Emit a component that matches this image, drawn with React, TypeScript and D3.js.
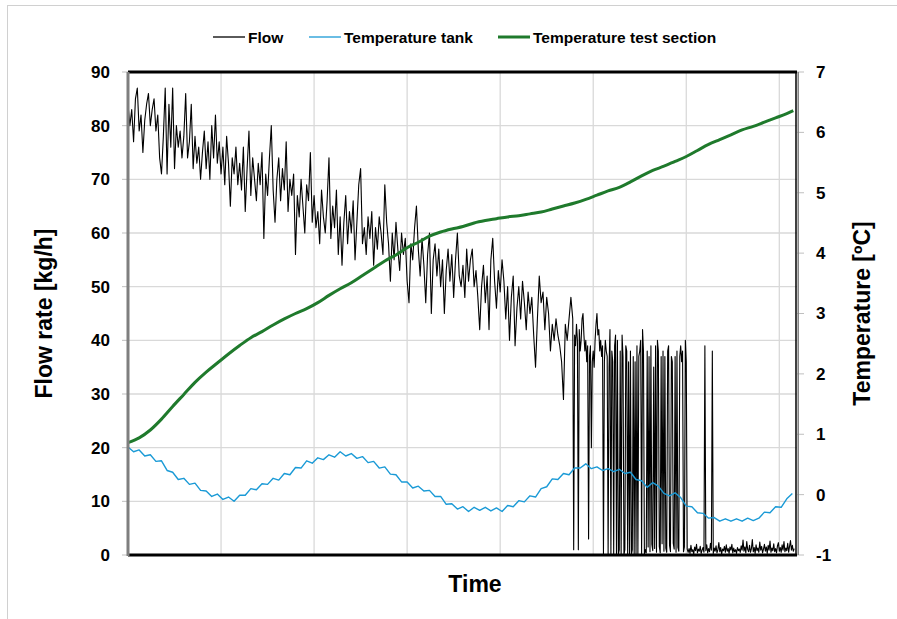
import React from "react";
import * as d3 from "d3";

// ---------- DATA ----------
// Flow rate [kg/h], part A: t = 0..476, step 2
const flowA: number[] = [
  84, 80, 83, 77, 85, 87, 79, 82, 75, 81,
  84, 86, 80, 83, 85, 79, 82, 74, 71, 78,
  87, 71, 84, 76, 87, 72, 80, 76, 79, 74,
  78, 86, 74, 77, 84, 72, 78, 73, 76, 70,
  75, 79, 72, 77, 70, 80, 74, 82, 73, 77,
  71, 76, 69, 78, 73, 65, 74, 71, 76, 69,
  73, 68, 76, 64, 72, 79, 67, 74, 70, 66,
  73, 69, 75, 59, 71, 67, 74, 80, 68, 62,
  70, 74, 66, 72, 68, 77, 64, 70, 67, 71,
  56, 67, 63, 70, 65, 60, 69, 66, 75, 62,
  67, 61, 64, 58, 68, 63, 60, 66, 74, 59,
  65, 61, 68, 56, 63, 54, 62, 67, 58, 64,
  60, 66, 55, 62, 69, 72, 58, 61, 56, 63,
  59, 64, 54, 61, 57, 63, 60, 56, 69, 62,
  58, 51, 60, 55, 62, 57, 53, 60, 56, 59,
  51, 47, 58, 55, 61, 65, 57, 52, 59, 54,
  47, 56, 60, 45, 55, 58, 52, 57, 50, 55,
  45, 53, 57, 51, 56, 48, 55, 60, 52, 50,
  54, 48, 57, 51, 55, 57, 50, 53, 48, 42,
  50, 54, 47, 52, 42, 55, 59, 51, 46, 53,
  49, 55, 51, 44, 50, 40, 48, 52, 39, 46,
  50, 44, 51, 47, 42, 49, 45, 48, 41, 35,
  44, 52, 47, 49, 42, 48, 45, 38, 43, 40,
  44, 41, 39, 36, 29, 43, 40, 44, 48,
];
const flowAStart = 0;
const flowAStep = 2;

// Flow part B: t = 477..601, step 1 (intermittent dropouts)
const flowB: number[] = [
  46, 44, 1, 41, 39, 43, 40, 1, 42, 38,
  40, 44, 45, 41, 38, 40, 36, 39, 3, 37,
  39, 20, 36, 38, 35, 40, 43, 45, 41, 42,
  38, 40, 37, 39, 0, 36, 40, 38, 37, 0,
  35, 42, 0, 38, 36, 0, 39, 41, 0, 40,
  0, 1, 38, 0, 41, 37, 0, 1, 39, 38,
  0, 36, 0, 38, 0, 1, 37, 0, 36, 0,
  39, 0, 37, 38, 40, 0, 42, 38, 0, 1,
  0.4, 38, 1.5, 37, 0.6, 39, 2, 0.8, 35, 1.2,
  39, 0.5, 40, 38, 1.6, 0.4, 37, 2.1, 38, 0.7,
  37, 1.3, 0.5, 38, 39, 1.8, 0.6, 37, 36, 2.2,
  1.1, 37, 0.5, 38, 1.4, 0.7, 37, 39, 36, 38,
  0.6, 1.5, 40, 36, 1.1,
];
const flowBStart = 477;
const flowBStep = 1;

// Flow part C: t = 602..716, step 1 (near zero with two isolated spikes)
const flowC: number[] = [
  0.5, 1.2, 0.3, 1.8, 0.6, 1.0, 0.2, 1.5, 0.8, 2.0,
  0.4, 1.1, 0.7, 1.6, 0.3, 0.9, 1.4, 0.5, 39, 0.8,
  1.9, 0.4, 1.2, 0.6, 2.2, 0.9, 38, 0.3, 1.3, 0.7,
  1.7, 0.4, 1.0, 2.3, 0.6, 1.4, 0.2, 1.1, 0.8, 1.6,
  0.5, 1.9, 0.7, 1.2, 0.3, 1.5, 0.9, 2.0, 0.4, 1.3,
  0.6, 1.0, 0.3, 1.4, 0.8, 1.1, 0.5, 1.7, 0.9, 2.8,
  0.7, 1.5, 0.4, 2.5, 1.0, 0.6, 1.8, 0.5, 1.2, 2.9,
  0.6, 1.4, 0.3, 1.9, 0.8, 1.3, 0.5, 2.4, 0.9, 1.6,
  0.4, 1.1, 2.0, 0.7, 1.5, 0.3, 1.8, 0.9, 2.6, 0.5,
  1.3, 0.8, 2.1, 0.6, 1.2, 0.4, 1.7, 2.3, 0.7, 1.4,
  0.5, 1.9, 0.9, 2.5, 0.6, 1.3, 0.8, 2.2, 0.5, 1.6,
  2.7, 0.9, 1.8, 0.7, 1.2,
];
const flowCStart = 602;
const flowCStep = 1;

// Temperature tank [ºC]: t = 0..714, step 6
const tankTemp: number[] = [
  0.79, 0.71, 0.74, 0.64, 0.66, 0.55, 0.56, 0.40, 0.37, 0.25,
  0.27, 0.17, 0.19, 0.07, 0.06, -0.03, 0.01, -0.08, -0.04, -0.11,
  -0.01, -0.01, 0.10, 0.08, 0.18, 0.17, 0.27, 0.24, 0.35, 0.33,
  0.45, 0.44, 0.56, 0.52, 0.61, 0.58, 0.66, 0.62, 0.71, 0.64,
  0.68, 0.60, 0.63, 0.53, 0.55, 0.44, 0.46, 0.34, 0.33, 0.21,
  0.21, 0.11, 0.14, 0.06, 0.07, -0.03, -0.03, -0.16, -0.15, -0.24,
  -0.20, -0.28, -0.21, -0.26, -0.21, -0.27, -0.22, -0.28, -0.18, -0.20,
  -0.10, -0.12, -0.02, -0.04, 0.10, 0.13, 0.26, 0.25, 0.35, 0.33,
  0.44, 0.44, 0.51, 0.43, 0.46, 0.40, 0.43, 0.38, 0.42, 0.35,
  0.37, 0.25, 0.23, 0.12, 0.20, 0.14, 0.02, -0.02, 0.03, -0.05,
  -0.19, -0.20, -0.30, -0.31, -0.39, -0.38, -0.44, -0.40, -0.44, -0.40,
  -0.44, -0.39, -0.43, -0.39, -0.29, -0.30, -0.20, -0.21, -0.07, 0.02,
];
const tankStart = 0;
const tankStep = 6;

// Temperature test section [ºC]
const testTime: number[] = [
  0, 12, 24, 36, 48, 60, 72, 84, 96, 108, 120, 132, 144, 156, 168, 180,
  192, 204, 216, 228, 240, 252, 264, 276, 288, 300, 312, 324, 336, 348,
  360, 372, 384, 396, 408, 420, 432, 444, 456, 468, 480, 492, 504, 516,
  528, 540, 552, 564, 576, 588, 600, 612, 624, 636, 648, 660, 672, 684,
  696, 708, 715,
];
const testTemp: number[] = [
  0.86, 0.94, 1.07, 1.25, 1.46, 1.66, 1.86, 2.03, 2.18, 2.33, 2.47, 2.6,
  2.7, 2.81, 2.91, 3.0, 3.08, 3.18, 3.3, 3.41, 3.51, 3.63, 3.75, 3.87,
  3.97, 4.09, 4.18, 4.28, 4.35, 4.4, 4.44, 4.5, 4.54, 4.57, 4.6, 4.62,
  4.65, 4.68, 4.73, 4.78, 4.83, 4.89, 4.96, 5.03, 5.09, 5.18, 5.28, 5.37,
  5.44, 5.52, 5.6, 5.7, 5.8, 5.88, 5.96, 6.04, 6.1, 6.17, 6.24, 6.31, 6.36,
];

const leftTicks = [0, 10, 20, 30, 40, 50, 60, 70, 80, 90];
const rightTicks = [-1, 0, 1, 2, 3, 4, 5, 6, 7];
const timeGrid = [100, 200, 300, 400, 500, 600, 700];

const legendItems = [
  { label: "Flow", color: "#000000", width: 1.3 },
  { label: "Temperature tank", color: "#1a9ad6", width: 1.3 },
  { label: "Temperature test section", color: "#1f7a2c", width: 3 },
];

// ---------- CHART ----------
const W = 897;
const H = 619;
const M = { left: 128, right: 797, top: 72, bottom: 555 };

export default function App() {
  const x = d3.scaleLinear().domain([0, 719]).range([M.left, M.right]);
  const yL = d3.scaleLinear().domain([0, 90]).range([M.bottom, M.top]);
  const yR = d3.scaleLinear().domain([-1, 7]).range([M.bottom, M.top]);

  const toPts = (vals: number[], start: number, step: number) =>
    vals.map((v, i) => [start + i * step, v] as [number, number]);

  const flowPts = [
    ...toPts(flowA, flowAStart, flowAStep),
    ...toPts(flowB, flowBStart, flowBStep),
    ...toPts(flowC, flowCStart, flowCStep),
  ];
  const tankPts = toPts(tankTemp, tankStart, tankStep);
  const testPts = testTime.map((t, i) => [t, testTemp[i]] as [number, number]);

  const lineL = d3
    .line<[number, number]>()
    .x((d) => x(d[0]))
    .y((d) => yL(d[1]));
  const lineR = d3
    .line<[number, number]>()
    .x((d) => x(d[0]))
    .y((d) => yR(d[1]));
  const lineRSmooth = d3
    .line<[number, number]>()
    .curve(d3.curveMonotoneX)
    .x((d) => x(d[0]))
    .y((d) => yR(d[1]));

  const font = "'Liberation Sans', Arial, sans-serif";
  const narrow = "'Liberation Sans Narrow', 'Arial Narrow', 'Liberation Sans', Arial, sans-serif";

  const legendX = [213, 309, 498];

  return (
    <svg
      width={W}
      height={H}
      style={{ position: "absolute", left: 0, top: 0, background: "#fff" }}
      fontFamily={font}
    >
      <rect x={0} y={0} width={W} height={H} fill="#fff" />
      <rect x={7.5} y={5.5} width={W + 10} height={H + 10} fill="none" stroke="#d0d0d0" strokeWidth={1} />

      {/* gridlines */}
      {leftTicks
        .filter((t) => t > 0 && t < 90)
        .map((t) => (
          <line key={"h" + t} x1={M.left} x2={M.right} y1={yL(t)} y2={yL(t)} stroke="#d9d9d9" strokeWidth={1.3} />
        ))}
      {timeGrid.map((t) => (
        <line key={"v" + t} x1={x(t)} x2={x(t)} y1={M.top} y2={M.bottom} stroke="#d9d9d9" strokeWidth={1.3} />
      ))}

      {/* left ticks */}
      {leftTicks.map((t) => (
        <g key={"lt" + t}>
          <line x1={M.left - 6} x2={M.left} y1={yL(t)} y2={yL(t)} stroke="#bfbfbf" strokeWidth={1} />
          <text x={110} y={yL(t)} dy="0.35em" textAnchor="end" fontSize={17} fontWeight="bold">
            {t}
          </text>
        </g>
      ))}
      {/* right ticks */}
      {rightTicks.map((t) => (
        <g key={"rt" + t}>
          <line x1={M.right} x2={M.right + 7} y1={yR(t)} y2={yR(t)} stroke="#bfbfbf" strokeWidth={1} />
          <text x={816} y={yR(t)} dy="0.35em" textAnchor="start" fontSize={17} fontWeight="bold">
            {t}
          </text>
        </g>
      ))}

      {/* series */}
      <path d={lineL(flowPts) || ""} fill="none" stroke="#000" strokeWidth={1.1} strokeLinejoin="round" />
      <path d={lineR(tankPts) || ""} fill="none" stroke="#1a9ad6" strokeWidth={1.4} strokeLinejoin="round" />
      <path d={lineRSmooth(testPts) || ""} fill="none" stroke="#1f7a2c" strokeWidth={3} strokeLinejoin="round" />

      {/* axes frame */}
      <line x1={M.left} x2={M.right} y1={M.top} y2={M.top} stroke="#000" strokeWidth={3} />
      <line x1={M.left} x2={M.right} y1={M.bottom} y2={M.bottom} stroke="#000" strokeWidth={3} />
      <line x1={M.left} x2={M.left} y1={M.top} y2={M.bottom + 1} stroke="#7f7f7f" strokeWidth={3} />
      <line x1={M.right - 1} x2={M.right - 1} y1={M.top} y2={M.bottom} stroke="#000" strokeWidth={1.5} />
      <line x1={M.right + 1.2} x2={M.right + 1.2} y1={M.top} y2={M.bottom} stroke="#7f7f7f" strokeWidth={1.5} />

      {/* axis titles */}
      <text x={475} y={592} textAnchor="middle" fontSize={23} fontWeight="bold">
        Time
      </text>
      <text
        transform={`translate(52, ${(M.top + M.bottom) / 2}) rotate(-90)`}
        textAnchor="middle"
        fontSize={23}
        fontWeight="bold"
      >
        Flow rate [kg/h]
      </text>
      <text
        transform={`translate(870, ${(M.top + M.bottom) / 2}) rotate(-90)`}
        textAnchor="middle"
        fontSize={23}
        fontWeight="bold"
      >
        Temperature [ºC]
      </text>

      {/* legend */}
      {legendItems.map((it, i) => (
        <g key={it.label}>
          <line x1={legendX[i]} x2={legendX[i] + 32} y1={37} y2={37} stroke={it.color} strokeWidth={it.width} />
          <text x={legendX[i] + 35} y={42.5} fontSize={15.5} fontWeight="bold" fontFamily={narrow}>
            {it.label}
          </text>
        </g>
      ))}
    </svg>
  );
}
